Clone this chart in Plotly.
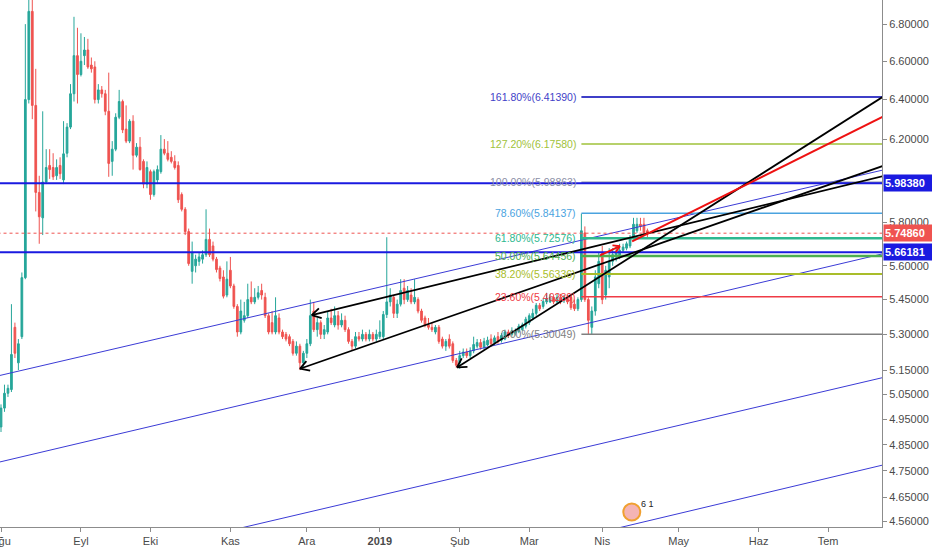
import numpy as np
import pandas as pd
import plotly.graph_objects as go

# ---------------- data ----------------
start_day = "2018-08-01"

opens = [4.920, 4.995, 5.055, 5.070, 5.330, 5.180, 5.290, 5.547, 6.400, 6.870,
         6.370, 5.940, 5.820, 5.990, 6.070, 6.060, 6.020, 6.070, 6.000, 6.130,
         6.260, 6.430, 6.630, 6.530, 6.630, 6.660, 6.580, 6.570, 6.400, 6.450,
         6.430, 6.340, 6.090, 6.150, 6.310, 6.390, 6.250, 6.190, 6.290, 6.120,
         6.160, 6.090, 5.980, 6.040, 5.930, 6.000, 6.040, 6.150, 6.130, 6.110,
         6.090, 6.070, 5.930, 5.860, 5.756, 5.575, 5.600, 5.620, 5.630, 5.650,
         5.720, 5.690, 5.630, 5.590, 5.550, 5.470, 5.580, 5.510, 5.420, 5.310,
         5.360, 5.380, 5.460, 5.440, 5.460, 5.490, 5.460, 5.380, 5.350, 5.310,
         5.370, 5.310, 5.300, 5.290, 5.270, 5.220, 5.250, 5.180, 5.220, 5.260,
         5.400, 5.320, 5.350, 5.300, 5.310, 5.370, 5.340, 5.380, 5.340, 5.360,
         5.320, 5.270, 5.250, 5.290, 5.280, 5.300, 5.280, 5.300, 5.280, 5.290,
         5.290, 5.385, 5.440, 5.460, 5.390, 5.430, 5.500, 5.450, 5.470, 5.440,
         5.450, 5.400, 5.370, 5.340, 5.330, 5.310, 5.330, 5.280, 5.250, 5.280,
         5.260, 5.190, 5.180, 5.210, 5.225, 5.210, 5.230, 5.250, 5.265, 5.245,
         5.255, 5.280, 5.265, 5.290, 5.275, 5.280, 5.310, 5.300, 5.305, 5.313,
         5.320, 5.335, 5.350, 5.370, 5.390, 5.425, 5.420, 5.440, 5.440, 5.460,
         5.440, 5.460, 5.445, 5.455, 5.460, 5.430, 5.410, 5.450, 5.750, 5.450,
         5.330, 5.400, 5.520, 5.660, 5.470, 5.550, 5.620, 5.640, 5.640, 5.670,
         5.680, 5.690, 5.730, 5.760, 5.790, 5.790, 5.760]
highs = [5.010, 5.090, 5.090, 5.430, 5.350, 5.280, 5.570, 6.800, 7.100, 7.000,
         6.560, 6.020, 6.340, 6.150, 6.150, 6.130, 6.100, 6.110, 6.290, 6.280,
         6.480, 6.840, 6.780, 6.750, 6.730, 6.720, 6.620, 6.600, 6.480, 6.470,
         6.450, 6.540, 6.190, 6.330, 6.450, 6.400, 6.370, 6.300, 6.320, 6.180,
         6.210, 6.100, 6.090, 6.050, 6.050, 6.070, 6.220, 6.200, 6.190, 6.140,
         6.120, 6.090, 5.940, 5.870, 5.770, 5.710, 5.650, 5.660, 5.670, 5.860,
         5.770, 5.710, 5.640, 5.600, 5.580, 5.620, 5.640, 5.520, 5.430, 5.450,
         5.440, 5.520, 5.530, 5.500, 5.510, 5.520, 5.480, 5.390, 5.400, 5.460,
         5.390, 5.320, 5.310, 5.300, 5.280, 5.270, 5.260, 5.230, 5.280, 5.450,
         5.440, 5.370, 5.360, 5.340, 5.400, 5.410, 5.420, 5.400, 5.390, 5.380,
         5.330, 5.280, 5.310, 5.310, 5.320, 5.310, 5.320, 5.310, 5.320, 5.360,
         5.400, 5.730, 5.500, 5.470, 5.450, 5.540, 5.540, 5.510, 5.500, 5.540,
         5.460, 5.410, 5.380, 5.370, 5.350, 5.340, 5.340, 5.290, 5.280, 5.300,
         5.270, 5.200, 5.230, 5.240, 5.240, 5.245, 5.290, 5.280, 5.280, 5.285,
         5.290, 5.300, 5.295, 5.310, 5.305, 5.320, 5.320, 5.330, 5.325, 5.345,
         5.350, 5.375, 5.390, 5.410, 5.435, 5.435, 5.455, 5.480, 5.475, 5.470,
         5.475, 5.475, 5.470, 5.470, 5.470, 5.450, 5.460, 5.840, 5.780, 5.460,
         5.420, 5.580, 5.660, 5.690, 5.600, 5.680, 5.680, 5.690, 5.700, 5.700,
         5.710, 5.740, 5.820, 5.820, 5.820, 5.820, 5.770]
lows = [4.900, 4.980, 5.040, 5.060, 5.200, 5.150, 5.280, 5.540, 6.380, 6.300,
        5.850, 5.700, 5.740, 5.980, 6.005, 6.000, 6.000, 6.005, 5.980, 6.110,
        6.250, 6.390, 6.380, 6.520, 6.580, 6.560, 6.540, 6.380, 6.380, 6.410,
        6.320, 6.015, 6.020, 6.140, 6.300, 6.230, 6.180, 6.180, 6.050, 6.110,
        6.045, 5.960, 5.960, 5.905, 5.920, 5.980, 6.030, 6.120, 6.090, 6.080,
        6.050, 5.890, 5.850, 5.740, 5.600, 5.520, 5.570, 5.600, 5.610, 5.640,
        5.640, 5.620, 5.570, 5.530, 5.455, 5.460, 5.500, 5.410, 5.290, 5.300,
        5.350, 5.370, 5.430, 5.430, 5.450, 5.450, 5.370, 5.300, 5.300, 5.300,
        5.300, 5.280, 5.270, 5.250, 5.210, 5.210, 5.150, 5.160, 5.200, 5.250,
        5.310, 5.290, 5.280, 5.280, 5.300, 5.340, 5.330, 5.320, 5.330, 5.310,
        5.260, 5.230, 5.240, 5.270, 5.270, 5.270, 5.270, 5.270, 5.270, 5.280,
        5.280, 5.370, 5.420, 5.370, 5.370, 5.420, 5.430, 5.440, 5.430, 5.430,
        5.390, 5.350, 5.330, 5.320, 5.310, 5.300, 5.260, 5.240, 5.230, 5.240,
        5.180, 5.160, 5.155, 5.200, 5.200, 5.200, 5.220, 5.240, 5.235, 5.235,
        5.250, 5.250, 5.255, 5.260, 5.265, 5.275, 5.285, 5.290, 5.295, 5.305,
        5.315, 5.325, 5.340, 5.360, 5.380, 5.400, 5.410, 5.430, 5.435, 5.430,
        5.435, 5.430, 5.435, 5.430, 5.405, 5.400, 5.400, 5.440, 5.440, 5.300,
        5.300, 5.380, 5.500, 5.430, 5.450, 5.500, 5.600, 5.620, 5.630, 5.660,
        5.670, 5.680, 5.720, 5.750, 5.760, 5.740, 5.730]
closes = [4.995, 5.055, 5.075, 5.215, 5.220, 5.260, 5.547, 6.400, 6.870, 6.370,
          5.940, 5.825, 5.990, 6.060, 6.050, 6.015, 6.060, 6.030, 6.127, 6.260,
          6.430, 6.630, 6.530, 6.600, 6.660, 6.570, 6.560, 6.400, 6.450, 6.430,
          6.340, 6.080, 6.150, 6.310, 6.390, 6.246, 6.190, 6.290, 6.120, 6.160,
          6.050, 5.980, 6.060, 5.930, 6.040, 6.050, 6.150, 6.130, 6.100, 6.090,
          6.060, 5.905, 5.860, 5.756, 5.610, 5.660, 5.630, 5.640, 5.650, 5.720,
          5.650, 5.630, 5.583, 5.543, 5.465, 5.540, 5.510, 5.420, 5.310, 5.400,
          5.380, 5.450, 5.440, 5.460, 5.480, 5.470, 5.380, 5.310, 5.310, 5.380,
          5.310, 5.290, 5.280, 5.260, 5.220, 5.250, 5.180, 5.220, 5.260, 5.380,
          5.320, 5.350, 5.300, 5.320, 5.370, 5.350, 5.380, 5.340, 5.360, 5.320,
          5.270, 5.250, 5.290, 5.280, 5.300, 5.280, 5.300, 5.280, 5.300, 5.310,
          5.385, 5.440, 5.470, 5.390, 5.430, 5.490, 5.450, 5.490, 5.440, 5.460,
          5.400, 5.360, 5.340, 5.330, 5.320, 5.330, 5.270, 5.250, 5.270, 5.250,
          5.190, 5.170, 5.210, 5.225, 5.210, 5.230, 5.257, 5.265, 5.245, 5.270,
          5.275, 5.260, 5.285, 5.270, 5.295, 5.310, 5.295, 5.315, 5.315, 5.335,
          5.340, 5.365, 5.380, 5.390, 5.425, 5.410, 5.442, 5.455, 5.460, 5.440,
          5.460, 5.440, 5.460, 5.440, 5.415, 5.410, 5.450, 5.760, 5.450, 5.360,
          5.400, 5.550, 5.620, 5.450, 5.580, 5.620, 5.650, 5.660, 5.670, 5.685,
          5.700, 5.730, 5.790, 5.790, 5.780, 5.750, 5.7486]

month_ticks = ["2018-08-01", "2018-09-03", "2018-10-01", "2018-11-01", "2018-12-03",
               "2019-01-01", "2019-02-01", "2019-03-01", "2019-04-01", "2019-05-01",
               "2019-06-03", "2019-07-01"]
month_labels = ["Ağu", "Eyl", "Eki", "Kas", "Ara", "<b>2019</b>", "Şub", "Mar",
                "Nis", "May", "Haz", "Tem"]

price_ticks = [6.8, 6.6, 6.4, 6.2, 5.8, 5.6, 5.45, 5.3, 5.15, 5.05, 4.95, 4.85,
               4.75, 4.65, 4.56]

# horizontal levels (blue) and last price
h_levels = [5.98380, 5.66181]
last_price = 5.74860

# fibonacci levels
fib_pcts = [0.0, 23.6, 38.2, 50.0, 61.8, 78.6, 100.0, 127.2, 161.8]
fib_prices = [5.30049, 5.46289, 5.56336, 5.64456, 5.72576, 5.84137, 5.98863, 6.17580, 6.41390]
fib_colors = ["#808080", "#ef3b45", "#a9bd2a", "#4caf50", "#2eb88f", "#4aa3df",
              "#8a8ea6", "#9fc23a", "#3f3fc8"]
fib_widths = [1.5, 1.5, 2, 2.5, 2.5, 1.5, 1.5, 1.5, 2]
fib_start_bar = 167

# channel lines (bar index, price)
chan_x0 = [-1, -1, 60, 170]
chan_p0 = [5.1255, 4.7814, 4.5097, 4.5136]
chan_x1 = [256, 256, 256, 256]
chan_p1 = [6.0566, 5.6627, 5.1266, 4.7789]

# black arrow trend lines (tip bar, tip price, end bar, end price)
arr_x0 = [131.2, 86.0, 89.4]
arr_p0 = [5.1610, 5.1555, 5.3823]
arr_x1 = [256, 256, 256]
arr_p1 = [6.4397, 6.0810, 6.0270]

# red arrow and red ray
red_arrow_x = [172.4, 178.1]
red_arrow_p = [5.6469, 5.6892]
red_ray_x = [181.6, 256]
red_ray_p = [5.7107, 6.3323]

event_bar = 181.5
event_price = 4.595

# ---------------- helpers ----------------
n = len(closes)
days = pd.bdate_range(start_day, periods=280)
dates = [d.strftime("%Y-%m-%d") for d in days[:n]]


def at(v):
    i = int(np.floor(v))
    if i < 0:
        t = days[0] + pd.Timedelta(days=float(v))
    else:
        t = days[i] + pd.Timedelta(days=float(v - i))
    return t.strftime("%Y-%m-%d %H:%M:%S")


UP = "#26a69a"
DOWN = "#ef5350"
BLUE = "#1a1ae0"
FONT = "Liberation Sans, Arial, sans-serif"

fig = go.Figure()

# channel lines
for x0, p0, x1, p1 in zip(chan_x0, chan_p0, chan_x1, chan_p1):
    fig.add_trace(go.Scatter(x=[at(x0), at(x1)], y=[p0, p1], mode="lines",
                             line=dict(color="#3b3bd6", width=1), hoverinfo="skip"))

# candles
fig.add_trace(go.Candlestick(
    x=dates, open=opens, high=highs, low=lows, close=closes,
    increasing=dict(line=dict(color=UP, width=1), fillcolor=UP),
    decreasing=dict(line=dict(color=DOWN, width=1), fillcolor=DOWN),
    whiskerwidth=0, hoverinfo="skip"))

# last price dotted line
fig.add_trace(go.Scatter(x=[at(-1), at(256)], y=[last_price, last_price], mode="lines",
                         line=dict(color=DOWN, width=1, dash="dot"), hoverinfo="skip"))

# fib levels
for pct, price, col, w in zip(fib_pcts, fib_prices, fib_colors, fib_widths):
    fig.add_trace(go.Scatter(x=[at(fib_start_bar), at(256)], y=[price, price], mode="lines",
                             line=dict(color=col, width=w), hoverinfo="skip"))

# blue horizontal levels
for lv in h_levels:
    fig.add_trace(go.Scatter(x=[at(-1), at(256)], y=[lv, lv], mode="lines",
                             line=dict(color=BLUE, width=2), hoverinfo="skip"))

# black trend lines
for x0, p0, x1, p1 in zip(arr_x0, arr_p0, arr_x1, arr_p1):
    fig.add_trace(go.Scatter(x=[at(x0), at(x1)], y=[p0, p1], mode="lines",
                             line=dict(color="black", width=1.8), hoverinfo="skip"))

# red arrow + red ray
fig.add_trace(go.Scatter(x=[at(v) for v in red_arrow_x], y=red_arrow_p, mode="lines",
                         line=dict(color="#ee1111", width=1.8), hoverinfo="skip"))
fig.add_trace(go.Scatter(x=[at(v) for v in red_ray_x], y=red_ray_p, mode="lines",
                         line=dict(color="#ee1111", width=2), hoverinfo="skip"))

# event icon
fig.add_trace(go.Scatter(x=[at(event_bar)], y=[event_price], mode="markers",
                         marker=dict(size=17, color="#f4b4b4", symbol="circle",
                                     line=dict(color="#f0a030", width=2)),
                         hoverinfo="skip"))

annotations = []

# arrowheads (two short arms per tip, offsets in pixels)
arrow_arms = [
    (arr_x0[0], arr_p0[0], [(12, -0.5), (5.6, -10.6)], "black"),
    (arr_x0[1], arr_p0[1], [(11.8, 2.2), (7.8, -9.1)], "black"),
    (arr_x0[2], arr_p0[2], [(11.5, 3.4), (8.7, -8.3)], "black"),
    (red_arrow_x[1], red_arrow_p[1], [(-9, -0.8), (-5.2, 7.4)], "#ee1111"),
]
for bx, bp, arms, col in arrow_arms:
    for ax, ay in arms:
        annotations.append(dict(x=at(bx), y=np.log10(bp), xref="x", yref="y", text="",
                                showarrow=True, arrowhead=0, arrowwidth=1.8,
                                arrowcolor=col, ax=ax, ay=ay, standoff=0))

# fib labels
for pct, price, col in zip(fib_pcts, fib_prices, fib_colors):
    annotations.append(dict(x=at(fib_start_bar), y=np.log10(price), xref="x", yref="y",
                            text=f"{pct:.2f}%({price:.5f})", showarrow=False,
                            xanchor="right", yanchor="middle", xshift=-3,
                            font=dict(family=FONT, size=10.5, color=col)))

# event text
annotations.append(dict(x=at(event_bar + 2.2), y=np.log10(event_price), xref="x", yref="y",
                        text="6 1", showarrow=False, xanchor="left", yanchor="bottom",
                        yshift=1, font=dict(family=FONT, size=9, color="#222")))

# price boxes on the axis
for val, bg in [(h_levels[0], BLUE), (last_price, DOWN), (h_levels[1], BLUE)]:
    annotations.append(dict(x=1, y=np.log10(val), xref="paper", yref="y",
                            text=f"<b>{val:.5f}</b>", showarrow=False,
                            xanchor="left", yanchor="middle", align="left",
                            bgcolor=bg, width=46, height=14, borderpad=1, xshift=1,
                            font=dict(family=FONT, size=11, color="white")))

fig.update_layout(
    width=932, height=550,
    margin=dict(l=0, r=50, t=0, b=23, autoexpand=False),
    paper_bgcolor="white", plot_bgcolor="white",
    showlegend=False,
    font=dict(family=FONT, size=11, color="#4a4a4a"),
    annotations=annotations,
    xaxis=dict(type="date", range=[at(-0.29), at(253.5)],
               rangebreaks=[dict(bounds=["sat", "mon"])],
               tickmode="array", tickvals=month_ticks, ticktext=month_labels,
               showgrid=False, zeroline=False, showline=True, linecolor="#8c8c8c",
               ticks="outside", ticklen=4, tickcolor="#8c8c8c",
               ticklabeloverflow="allow", automargin=False,
               rangeslider=dict(visible=False), fixedrange=True),
    yaxis=dict(type="log", side="right",
               range=[np.log10(4.540), np.log10(6.933)],
               tickmode="array", tickvals=price_ticks,
               ticktext=[f"{v:.5f}" for v in price_ticks], automargin=False,
               showgrid=False, zeroline=False, showline=True, linecolor="#8c8c8c",
               ticks="outside", ticklen=4, tickcolor="#8c8c8c", fixedrange=True),
)

fig.write_html("out.html", config={"displayModeBar": False},
               post_script="document.body.style.margin='0px';document.body.style.padding='0px';")
